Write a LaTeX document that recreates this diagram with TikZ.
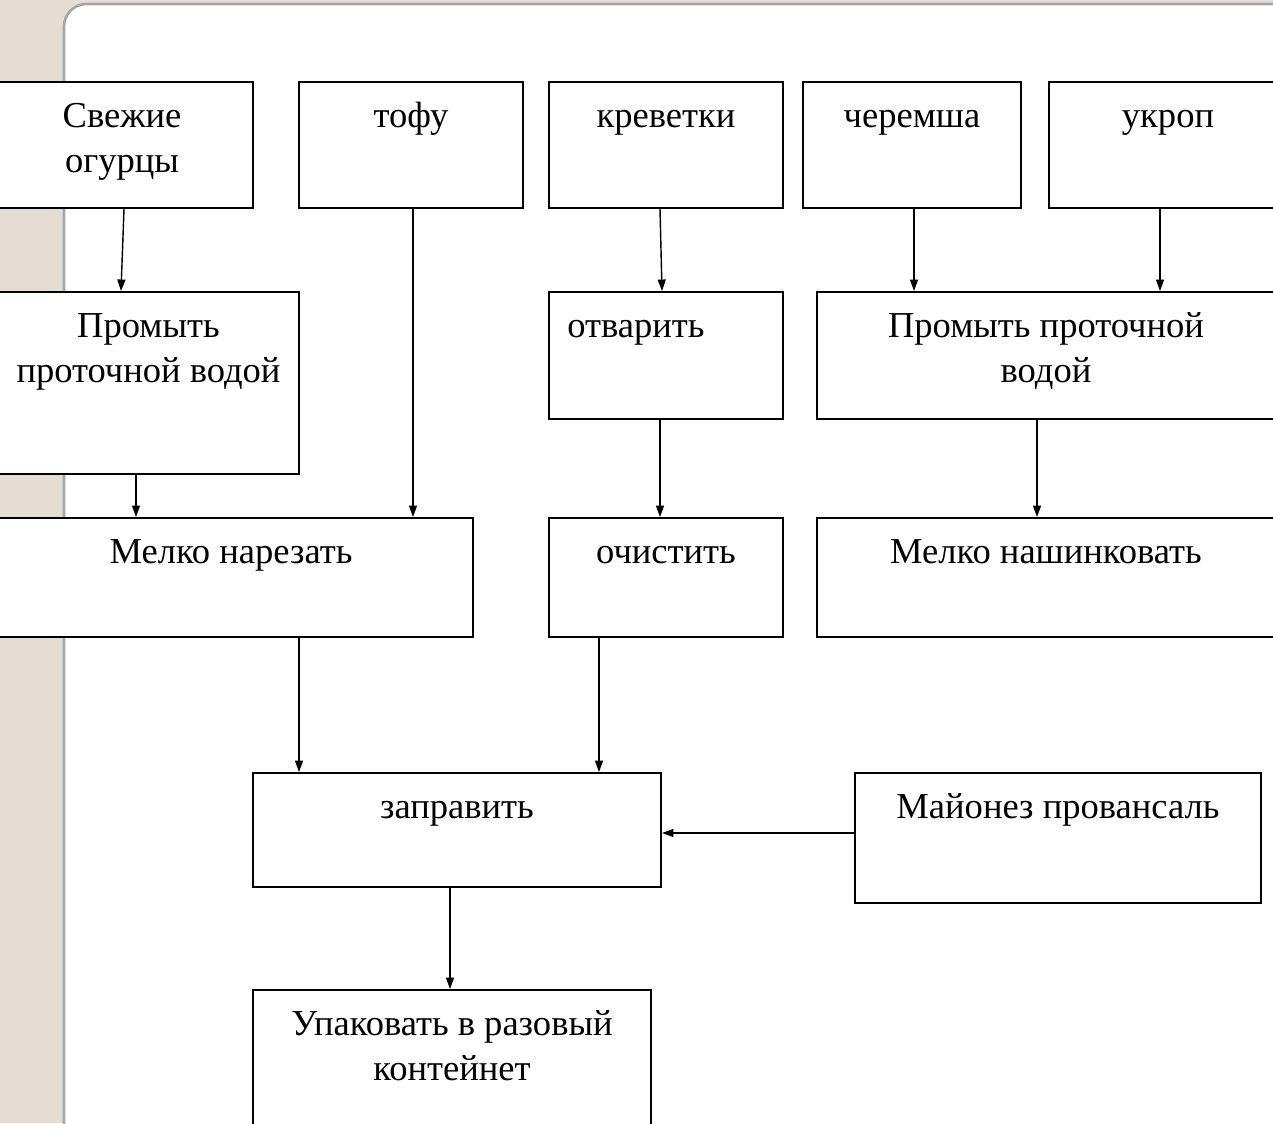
\documentclass[tikz,border=0pt]{standalone}
\usepackage{fontspec}
\setmainfont{Liberation Serif}
\usetikzlibrary{arrows.meta,fit}
\definecolor{bg}{RGB}{227,221,211}
\definecolor{rim}{RGB}{166,166,166}

\begin{document}
\begin{tikzpicture}[x=0.02cm,y=-0.02cm,
  box/.style={draw,line width=1.1pt,fill=white,inner sep=0pt},
  txt/.style={inner sep=0pt,align=center,font=\fontsize{20.8}{25.5}\selectfont},
  arr/.style={-{Triangle[length=2.3mm,width=1.6mm]},line width=0.8pt}]

  % background and slide panel
  \fill[bg] (0,0) rectangle (1273,1123);
  \useasboundingbox (0,0) rectangle (1273,1123);
  \draw[rim,line width=1.5pt,fill=white,rounded corners=0.45cm] (64,1160) -- (64,4) -- (1310,4) -- (1310,1160) -- cycle;

  % ingredients
  \node[box,fit={(-9,82) (253,208)}] (cuc) {};
  \node[box,fit={(299,82) (523,208)}] (tofu) {};
  \node[box,fit={(549,82) (783,208)}] (shrimp) {};
  \node[box,fit={(803,82) (1021,208)}] (garlic) {};
  \node[box,fit={(1049,82) (1287,208)}] (dill) {};
  \node[txt,anchor=north] (cuc-t) at ([yshift=-8.4pt]cuc.north) {\strut Свежие\\огурцы};
  \node[txt,anchor=north] (tofu-t) at ([yshift=-8.4pt]tofu.north) {\strut тофу};
  \node[txt,anchor=north] (shrimp-t) at ([yshift=-8.4pt]shrimp.north) {\strut креветки};
  \node[txt,anchor=north] (garlic-t) at ([yshift=-8.4pt]garlic.north) {\strut черемша};
  \node[txt,anchor=north] (dill-t) at ([yshift=-8.4pt]dill.north) {\strut укроп};

  % first steps
  \node[box,fit={(-2,292) (299,474)}] (wash1) {};
  \node[box,fit={(549,292) (783,419)}] (boil) {};
  \node[box,fit={(817,292) (1275,419)}] (wash2) {};
  \node[txt,anchor=north] (wash1-t) at ([yshift=-8.4pt]wash1.north) {\strut Промыть\\проточной водой};
  \node[txt,anchor=north west] (boil-t) at ([xshift=0.38cm,yshift=-8.4pt]boil.north west) {\strut отварить};
  \node[txt,anchor=north] (wash2-t) at ([yshift=-8.4pt]wash2.north) {\strut Промыть проточной\\водой};

  % second steps
  \node[box,fit={(-11,518) (473,637)}] (chop) {};
  \node[box,fit={(549,518) (783,637)}] (peel) {};
  \node[box,fit={(817,518) (1275,637)}] (shred) {};
  \node[txt,anchor=north] (chop-t) at ([yshift=-8.4pt]chop.north) {\strut Мелко нарезать};
  \node[txt,anchor=north] (peel-t) at ([yshift=-8.4pt]peel.north) {\strut очистить};
  \node[txt,anchor=north] (shred-t) at ([yshift=-8.4pt]shred.north) {\strut Мелко нашинковать};

  % dressing and packing
  \node[box,fit={(253,773) (661,887)}] (dress) {};
  \node[box,fit={(855,773) (1261,903)}] (mayo) {};
  \node[box,fit={(253,990) (651,1160)}] (pack) {};
  \node[txt,anchor=north] (dress-t) at ([yshift=-8.4pt]dress.north) {\strut заправить};
  \node[txt,anchor=north] (mayo-t) at ([yshift=-8.4pt]mayo.north) {\strut Майонез провансаль};
  \node[txt,anchor=north] (pack-t) at ([yshift=-8.4pt]pack.north) {\strut Упаковать в разовый\\контейнет};

  % arrows
  \draw[arr] (cuc.south -| 124,0) -- (wash1.north -| 121,0);
  \draw[arr] (tofu.south -| 413,0) -- (chop.north -| 413,0);
  \draw[arr] (shrimp.south -| 660,0) -- (boil.north -| 662,0);
  \draw[arr] (garlic.south -| 914,0) -- (wash2.north -| 914,0);
  \draw[arr] (dill.south -| 1160,0) -- (wash2.north -| 1160,0);
  \draw[arr] (wash1.south -| 136,0) -- (chop.north -| 136,0);
  \draw[arr] (boil.south -| 660,0) -- (peel.north -| 660,0);
  \draw[arr] (wash2.south -| 1037,0) -- (shred.north -| 1037,0);
  \draw[arr] (chop.south -| 299,0) -- (dress.north -| 299,0);
  \draw[arr] (peel.south -| 599,0) -- (dress.north -| 599,0);
  \draw[arr] (mayo.west |- 0,833) -- (dress.east |- 0,833);
  \draw[arr] (dress.south -| 450,0) -- (pack.north -| 450,0);
\end{tikzpicture}
\end{document}
